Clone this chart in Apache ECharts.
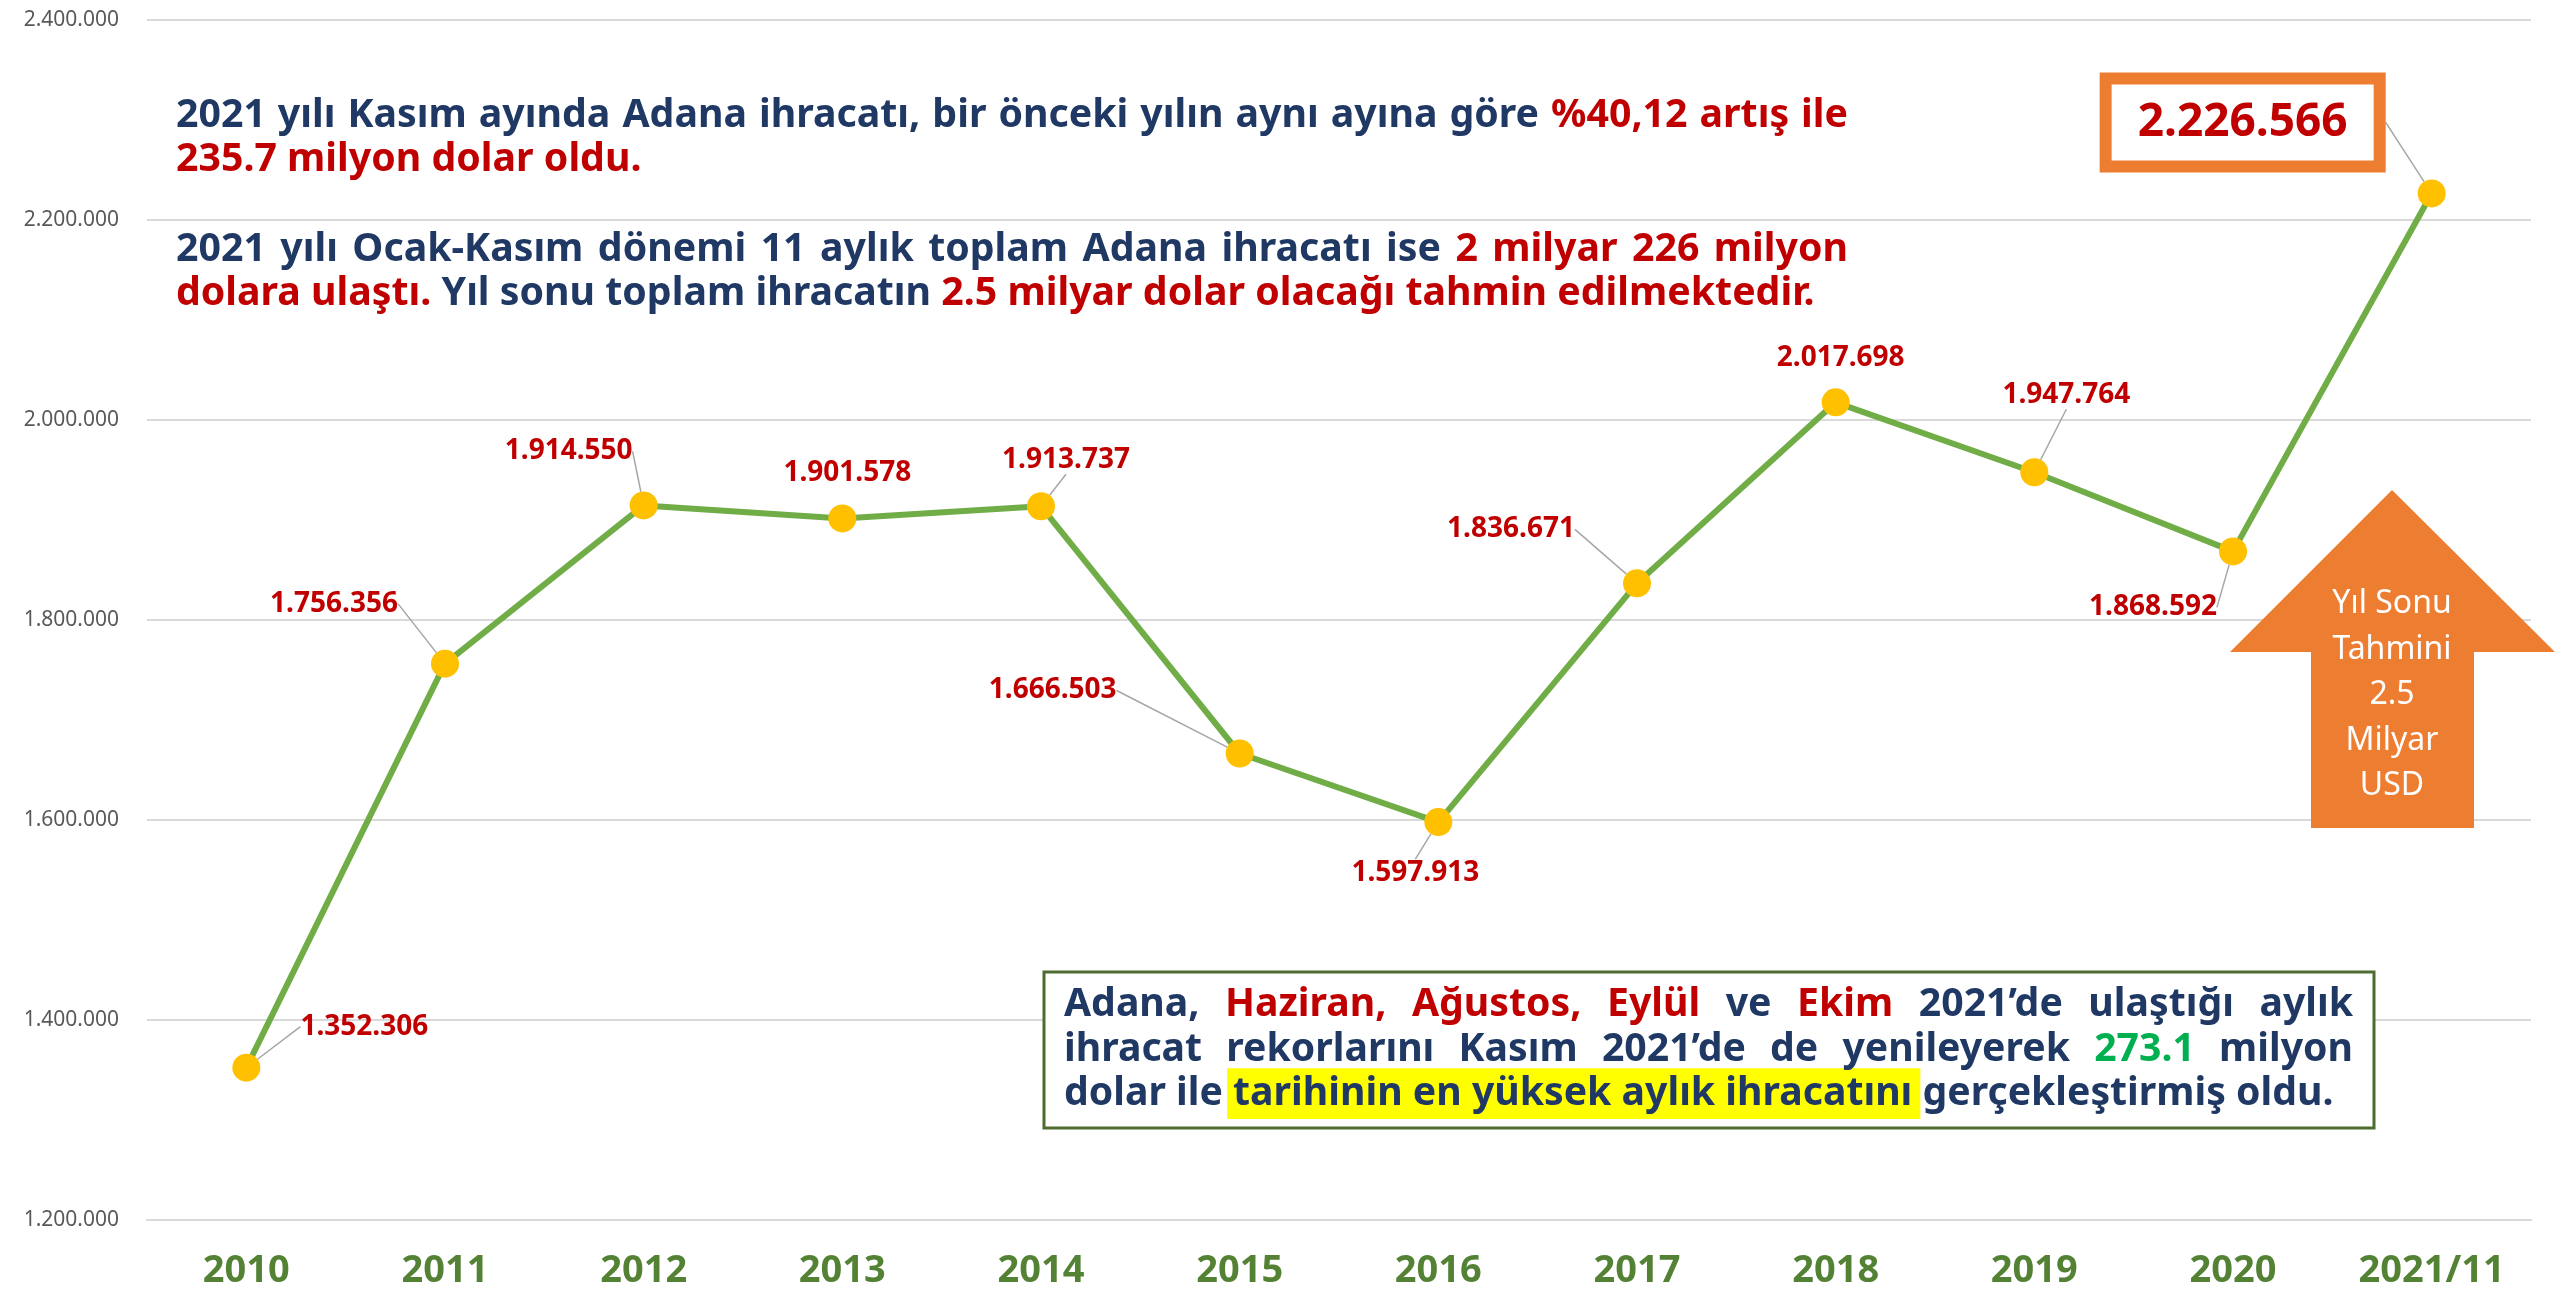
<!DOCTYPE html>
<html>
<head>
<meta charset="utf-8">
<title>Adana ihracatı</title>
<script src="https://cdn.jsdelivr.net/npm/echarts@6/dist/echarts.min.js"></script>
<style>
  html, body { margin: 0; padding: 0; background: #fff; }
  #main { width: 2560px; height: 1297px; }
</style>
</head>
<body>
<div id="main"></div>
<script>
  // veriler (bin USD)
  var years = ['2010', '2011', '2012', '2013', '2014', '2015', '2016', '2017', '2018', '2019', '2020', '2021/11'];
  var exportValues = [1352306, 1756356, 1914550, 1901578, 1913737, 1666503, 1597913, 1836671, 2017698, 1947764, 1868592, 2226566];
  var yMin = 1200000, yMax = 2400000, yStep = 200000;

  // etiketlerin noktaya göre kaydırması (px)
  var labelShift = [[118, -41], [-111, -60], [-75, -54], [5, -45], [25, -46], [-187, -63],
                    [-23, 51], [-126, -54], [5, -44], [32, -77], [-80, 56], [-189, -71]];
  var noLeader = [3, 8];

  var NAVY = '#1F3864', RED = '#C00000', GREEN = '#00B050';
  var FONT = '"Noto Sans", "Open Sans", sans-serif';

  function dots(v) {
    return String(v).replace(/\B(?=(\d{3})+(?!\d))/g, '.');
  }

  // yazı ölçümü
  var ctx = document.createElement('canvas').getContext('2d');
  function fontStr(size) { return 'bold ' + size + 'px ' + FONT; }
  function textW(t, size) { ctx.font = fontStr(size); return ctx.measureText(t).width; }
  function toWords(segs) {
    var out = [];
    segs.forEach(function (s) {
      s[0].split(' ').forEach(function (w) { if (w) out.push({ t: w, c: s[1], hl: !!s[2] }); });
    });
    return out;
  }
  function naturalW(segs, size) {
    var ws = toWords(segs), sum = 0;
    ws.forEach(function (w) { sum += textW(w.t, size); });
    return sum + (ws.length - 1) * textW(' ', size);
  }
  // iki yana yaslı paragraf
  function paragraph(lines, x0, x1, ys, size, out) {
    lines.forEach(function (ln, li) {
      var ws = toWords(ln.segs), sum = 0;
      var widths = ws.map(function (w) { var a = textW(w.t, size); sum += a; return a; });
      var gap = ln.justify ? (x1 - x0 - sum) / (ws.length - 1) : textW(' ', size);
      var x = x0, hlStart = null, hlEnd = null;
      ws.forEach(function (w, i) {
        if (w.hl) { if (hlStart === null) hlStart = x; hlEnd = x + widths[i]; }
        out.push({
          type: 'text', z: 12, x: x, y: ys[li],
          style: { text: w.t, font: fontStr(size), fill: w.c, align: 'left', verticalAlign: 'middle',
                   textAlign: 'left', textVerticalAlign: 'middle' }
        });
        x += widths[i] + gap;
      });
      if (hlStart !== null) {
        out.push({
          type: 'rect', z: 11,
          shape: { x: hlStart - 6, y: ys[li] - size * 0.66, width: hlEnd - hlStart + 14, height: size * 1.3 },
          style: { fill: '#FFFF00' }
        });
      }
    });
  }

  var topLines = [
    { justify: true, segs: [['2021 yılı Kasım ayında Adana ihracatı, bir önceki yılın aynı ayına göre', NAVY], ['%40,12 artış ile', RED]] },
    { justify: false, segs: [['235.7 milyon dolar oldu.', RED]] },
    { justify: true, segs: [['2021 yılı Ocak-Kasım dönemi 11 aylık toplam Adana ihracatı ise', NAVY], ['2 milyar 226 milyon', RED]] },
    { justify: false, segs: [['dolara ulaştı.', RED], ['Yıl sonu toplam ihracatın', NAVY], ['2.5 milyar dolar olacağı tahmin edilmektedir.', RED]] }
  ];
  var boxLines = [
    { justify: true, segs: [['Adana,', NAVY], ['Haziran, Ağustos, Eylül', RED], ['ve', NAVY], ['Ekim', RED], ['2021’de ulaştığı aylık', NAVY]] },
    { justify: true, segs: [['ihracat rekorlarını Kasım 2021’de de yenileyerek', NAVY], ['273.1', GREEN], ['milyon', NAVY]] },
    { justify: false, segs: [['dolar ile', NAVY], ['tarihinin en yüksek aylık ihracatını', NAVY, true], ['gerçekleştirmiş oldu.', NAVY]] }
  ];

  var graphics = [];
  // üst paragraf: son satır genişliğine göre punto
  var topSize = 100 * 1639 / naturalW(topLines[3].segs, 100);
  paragraph(topLines, 176, 1848, [116, 160, 250, 294], topSize, graphics);

  // alt kutu
  graphics.push({
    type: 'rect', z: 10,
    shape: { x: 1044, y: 972, width: 1330, height: 156 },
    style: { fill: '#fff', stroke: '#4E6B30', lineWidth: 3 }
  });
  var boxSize = 100 * 1270 / naturalW(boxLines[2].segs, 100);
  paragraph(boxLines, 1064, 2353, [1005, 1050, 1094], boxSize, graphics);

  // ok
  graphics.push({
    type: 'polygon', z: 10,
    shape: { points: [[2392, 490], [2555, 652], [2474, 652], [2474, 828], [2311, 828], [2311, 652], [2230, 652]] },
    style: { fill: '#ED7D31' }
  });
  graphics.push({
    type: 'text', z: 12, x: 2392, y: 695,
    style: { text: 'Yıl Sonu\nTahmini\n2.5\nMilyar\nUSD', font: '32px ' + FONT, fill: '#fff',
             align: 'center', verticalAlign: 'middle', textAlign: 'center', textVerticalAlign: 'middle', lineHeight: 45.5 }
  });

  var seriesData = exportValues.map(function (v, i) {
    var item = { value: v };
    if (noLeader.indexOf(i) >= 0) item.labelLine = { show: false };
    if (i === exportValues.length - 1) {
      item.label = {
        fontSize: 46, backgroundColor: '#fff', borderColor: '#ED7D31', borderWidth: 12,
        padding: [15, 26, 15, 26]
      };
    }
    return item;
  });

  var myChart = echarts.init(document.getElementById('main'));
  var option = {
    backgroundColor: '#fff',
    animation: false,
    grid: { left: 147, right: 29, top: 20, bottom: 77, containLabel: false },
    xAxis: {
      type: 'category',
      data: years,
      boundaryGap: true,
      axisLine: { show: true, lineStyle: { color: '#D9D9D9', width: 2 } },
      axisTick: { show: false },
      axisLabel: { color: '#548235', fontFamily: FONT, fontWeight: 'bold', fontSize: 38, margin: 32 }
    },
    yAxis: {
      type: 'value',
      min: yMin, max: yMax, interval: yStep,
      axisLine: { show: false },
      axisTick: { show: false },
      splitLine: { lineStyle: { color: '#D9D9D9', width: 2 } },
      axisLabel: { color: '#595959', fontFamily: FONT, fontSize: 21, margin: 28, formatter: dots }
    },
    series: [{
      type: 'line',
      data: seriesData,
      symbol: 'circle',
      symbolSize: 28,
      showAllSymbol: true,
      lineStyle: { color: '#70AD47', width: 6 },
      itemStyle: { color: '#FFC000', borderWidth: 0 },
      label: {
        show: true, position: 'inside',
        color: RED, fontFamily: FONT, fontWeight: 'bold', fontSize: 28,
        formatter: function (p) { return dots(p.value); }
      },
      labelLine: { show: true, lineStyle: { color: '#A6A6A6', width: 1.5 } },
      labelLayout: function (p) {
        var s = labelShift[p.dataIndex];
        return { dx: s[0], dy: s[1] };
      },
      emphasis: { disabled: true }
    }],
    graphic: { elements: graphics }
  };
  myChart.setOption(option);
</script>
</body>
</html>
